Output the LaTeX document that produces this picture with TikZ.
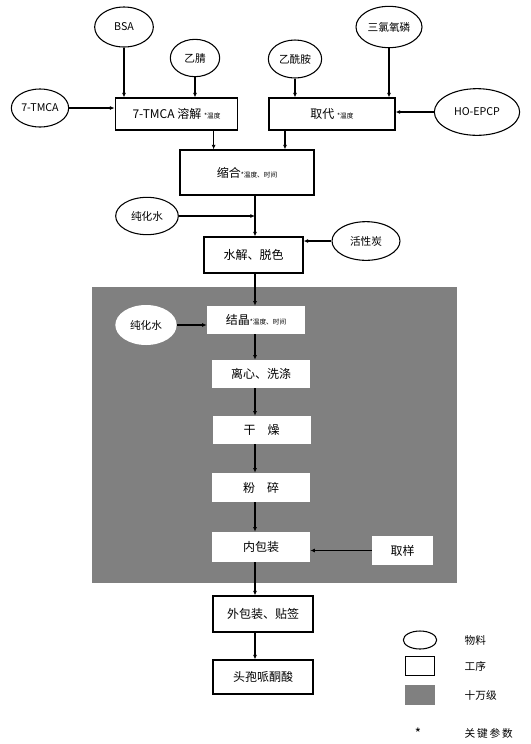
\documentclass[tikz,border=0pt]{standalone}
\usepackage{fontspec}
\setmainfont{Noto Sans CJK SC}
\usetikzlibrary{positioning, calc, shapes.geometric, arrows.meta}
\definecolor{cleanGray}{RGB}{128,128,128}

\begin{document}
\begin{tikzpicture}[
    x=0.75pt, y=-0.75pt,
    matnode/.style={ellipse, draw, thick, fill=white, inner sep=0pt,
                    font=\fontsize{8}{9}\selectfont},
    procbox/.style={rectangle, draw, thick, fill=white, inner sep=1pt,
                    font=\fontsize{9}{10}\selectfont},
    cleanbox/.style={rectangle, fill=white, inner sep=1pt,
                     font=\fontsize{9}{10}\selectfont},
    arrow/.style={-{Latex[length=3.5pt,width=3pt]}, thick},
    keyp/.style={font=\fontsize{5}{6}\selectfont},
    legtext/.style={anchor=west, font=\fontsize{8}{9}\selectfont},
  ]
    \useasboundingbox (0,0) rectangle (531,744);

    % clean area (100 000 class)
    \fill[cleanGray] (92,287) rectangle (457,583);
    \coordinate (col) at (255,0);

    % Top: dissolving and substitution
    \node[procbox, minimum width=92pt, minimum height=24pt] (RJ) at (176.5,114)
      {7-TMCA 溶解\ {\tiny *温度}};
    \node[procbox, minimum width=94.5pt, minimum height=24pt] (QD) at (332,114)
      {取代\ {\tiny *温度}};
    \node[matnode, minimum width=44pt, minimum height=30pt] (BSA) at (124,27) {BSA};
    \node[matnode, minimum width=37pt, minimum height=28pt] (YJ) at (195,58) {乙腈};
    \node[matnode, minimum width=43pt, minimum height=28.5pt] (TMCA) at (40,108) {7-TMCA};
    \node[matnode, minimum width=40pt, minimum height=28.5pt] (YXA) at (295,59) {乙酰胺};
    \node[matnode, minimum width=49.5pt, minimum height=31pt] (SLYL) at (389,27) {三氯氧磷};
    \node[matnode, minimum width=64pt, minimum height=35pt] (EPCP) at (477,112) {HO-EPCP};
    \draw[arrow] (BSA) -- (BSA |- RJ.north);
    \draw[arrow] (YJ) -- (YJ |- RJ.north);
    \draw[arrow] (TMCA) -- (TMCA -| RJ.west);
    \draw[arrow] (YXA) -- (YXA |- QD.north);
    \draw[arrow] (SLYL) -- (SLYL |- QD.north);
    \draw[arrow] (EPCP) -- (EPCP -| QD.east);

    % Condensation, hydrolysis
    \node[procbox, minimum width=100.5pt, minimum height=33.75pt] (SH) at (247,172.5)
      {缩合{\tiny *温度、时间}};
    \draw[arrow] ($(RJ.south west)!.8!(RJ.south east)$) coordinate (p1) -- (p1 |- SH.north);
    \draw[arrow] ($(QD.south west)!.13!(QD.south east)$) coordinate (p2) -- (p2 |- SH.north);
    \node[procbox, minimum width=74.25pt, minimum height=27pt] (SJ) at (253.5,255)
      {水解、脱色};
    \node[matnode, minimum width=47pt, minimum height=28pt] (CSW1) at (147,216) {纯化水};
    \node[matnode, minimum width=51pt, minimum height=29pt] (HXT) at (366,241) {活性炭};
    \draw[arrow] (SH.south -| col) -- (SJ.north -| col);
    \draw[arrow] (CSW1) -- (CSW1 -| col);
    \draw[arrow] (HXT) -- (HXT -| SJ.east);

    % Clean area steps
    \node[cleanbox, minimum width=73.5pt, minimum height=21pt] (JJ) at (256,320)
      {结晶{\tiny *温度、时间}};
    \node[cleanbox, minimum width=73.5pt, minimum height=21pt] (LX) at (261,374) {离心、洗涤};
    \node[cleanbox, minimum width=73.5pt, minimum height=21pt] (GZ) at (261.5,430) {干\quad 燥};
    \node[cleanbox, minimum width=73.5pt, minimum height=21.75pt] (FS) at (261,487.5) {粉\quad 碎};
    \node[cleanbox, minimum width=73.5pt, minimum height=22.5pt] (NB) at (261,547) {内包装};
    \node[cleanbox, minimum width=45.75pt, minimum height=21.75pt] (QY) at (402.5,550.5) {取样};
    \node[ellipse, fill=white, inner sep=0pt, minimum width=46pt, minimum height=30pt,
          font=\fontsize{8}{9}\selectfont] (CSW2) at (146,325) {纯化水};
    \draw[arrow] (SJ.south -| col) -- (JJ.north -| col);
    \draw[arrow] (CSW2) -- (CSW2 -| JJ.west);
    \draw[arrow] (JJ.south -| col) -- (LX.north -| col);
    \draw[arrow] (LX.south -| col) -- (GZ.north -| col);
    \draw[arrow] (GZ.south -| col) -- (FS.north -| col);
    \draw[arrow] (FS.south -| col) -- (NB.north -| col);
    \draw[arrow] (QY) -- (QY -| NB.east);

    % Packing
    \node[procbox, minimum width=75pt, minimum height=27pt] (WB) at (263,614) {外包装、贴签};
    \node[procbox, minimum width=75pt, minimum height=25.5pt] (CP) at (263,677) {头孢哌酮酸};
    \draw[arrow] (NB.south -| col) -- (WB.north -| col);
    \draw[arrow] (WB.south -| col) -- (CP.north -| col);

    % Legend
    \node[ellipse, draw, thick, minimum width=25pt, minimum height=13.5pt] (LG1) at (420,640) {};
    \node[rectangle, draw, thick, minimum width=22pt, minimum height=14pt] (LG2) at (420,666) {};
    \node[rectangle, fill=cleanGray, minimum width=22pt, minimum height=15pt] (LG3) at (420,695) {};
    \node (LG4) at (418,733) {*};
    \node[legtext] at (LG1 -| 460,0) {物料};
    \node[legtext] at (LG2 -| 460,0) {工序};
    \node[legtext] at (LG3 -| 460,0) {十万级};
    \node[legtext] at (LG4 -| 460,0) {关\,键\,参\,数};
  \end{tikzpicture}
\end{document}
